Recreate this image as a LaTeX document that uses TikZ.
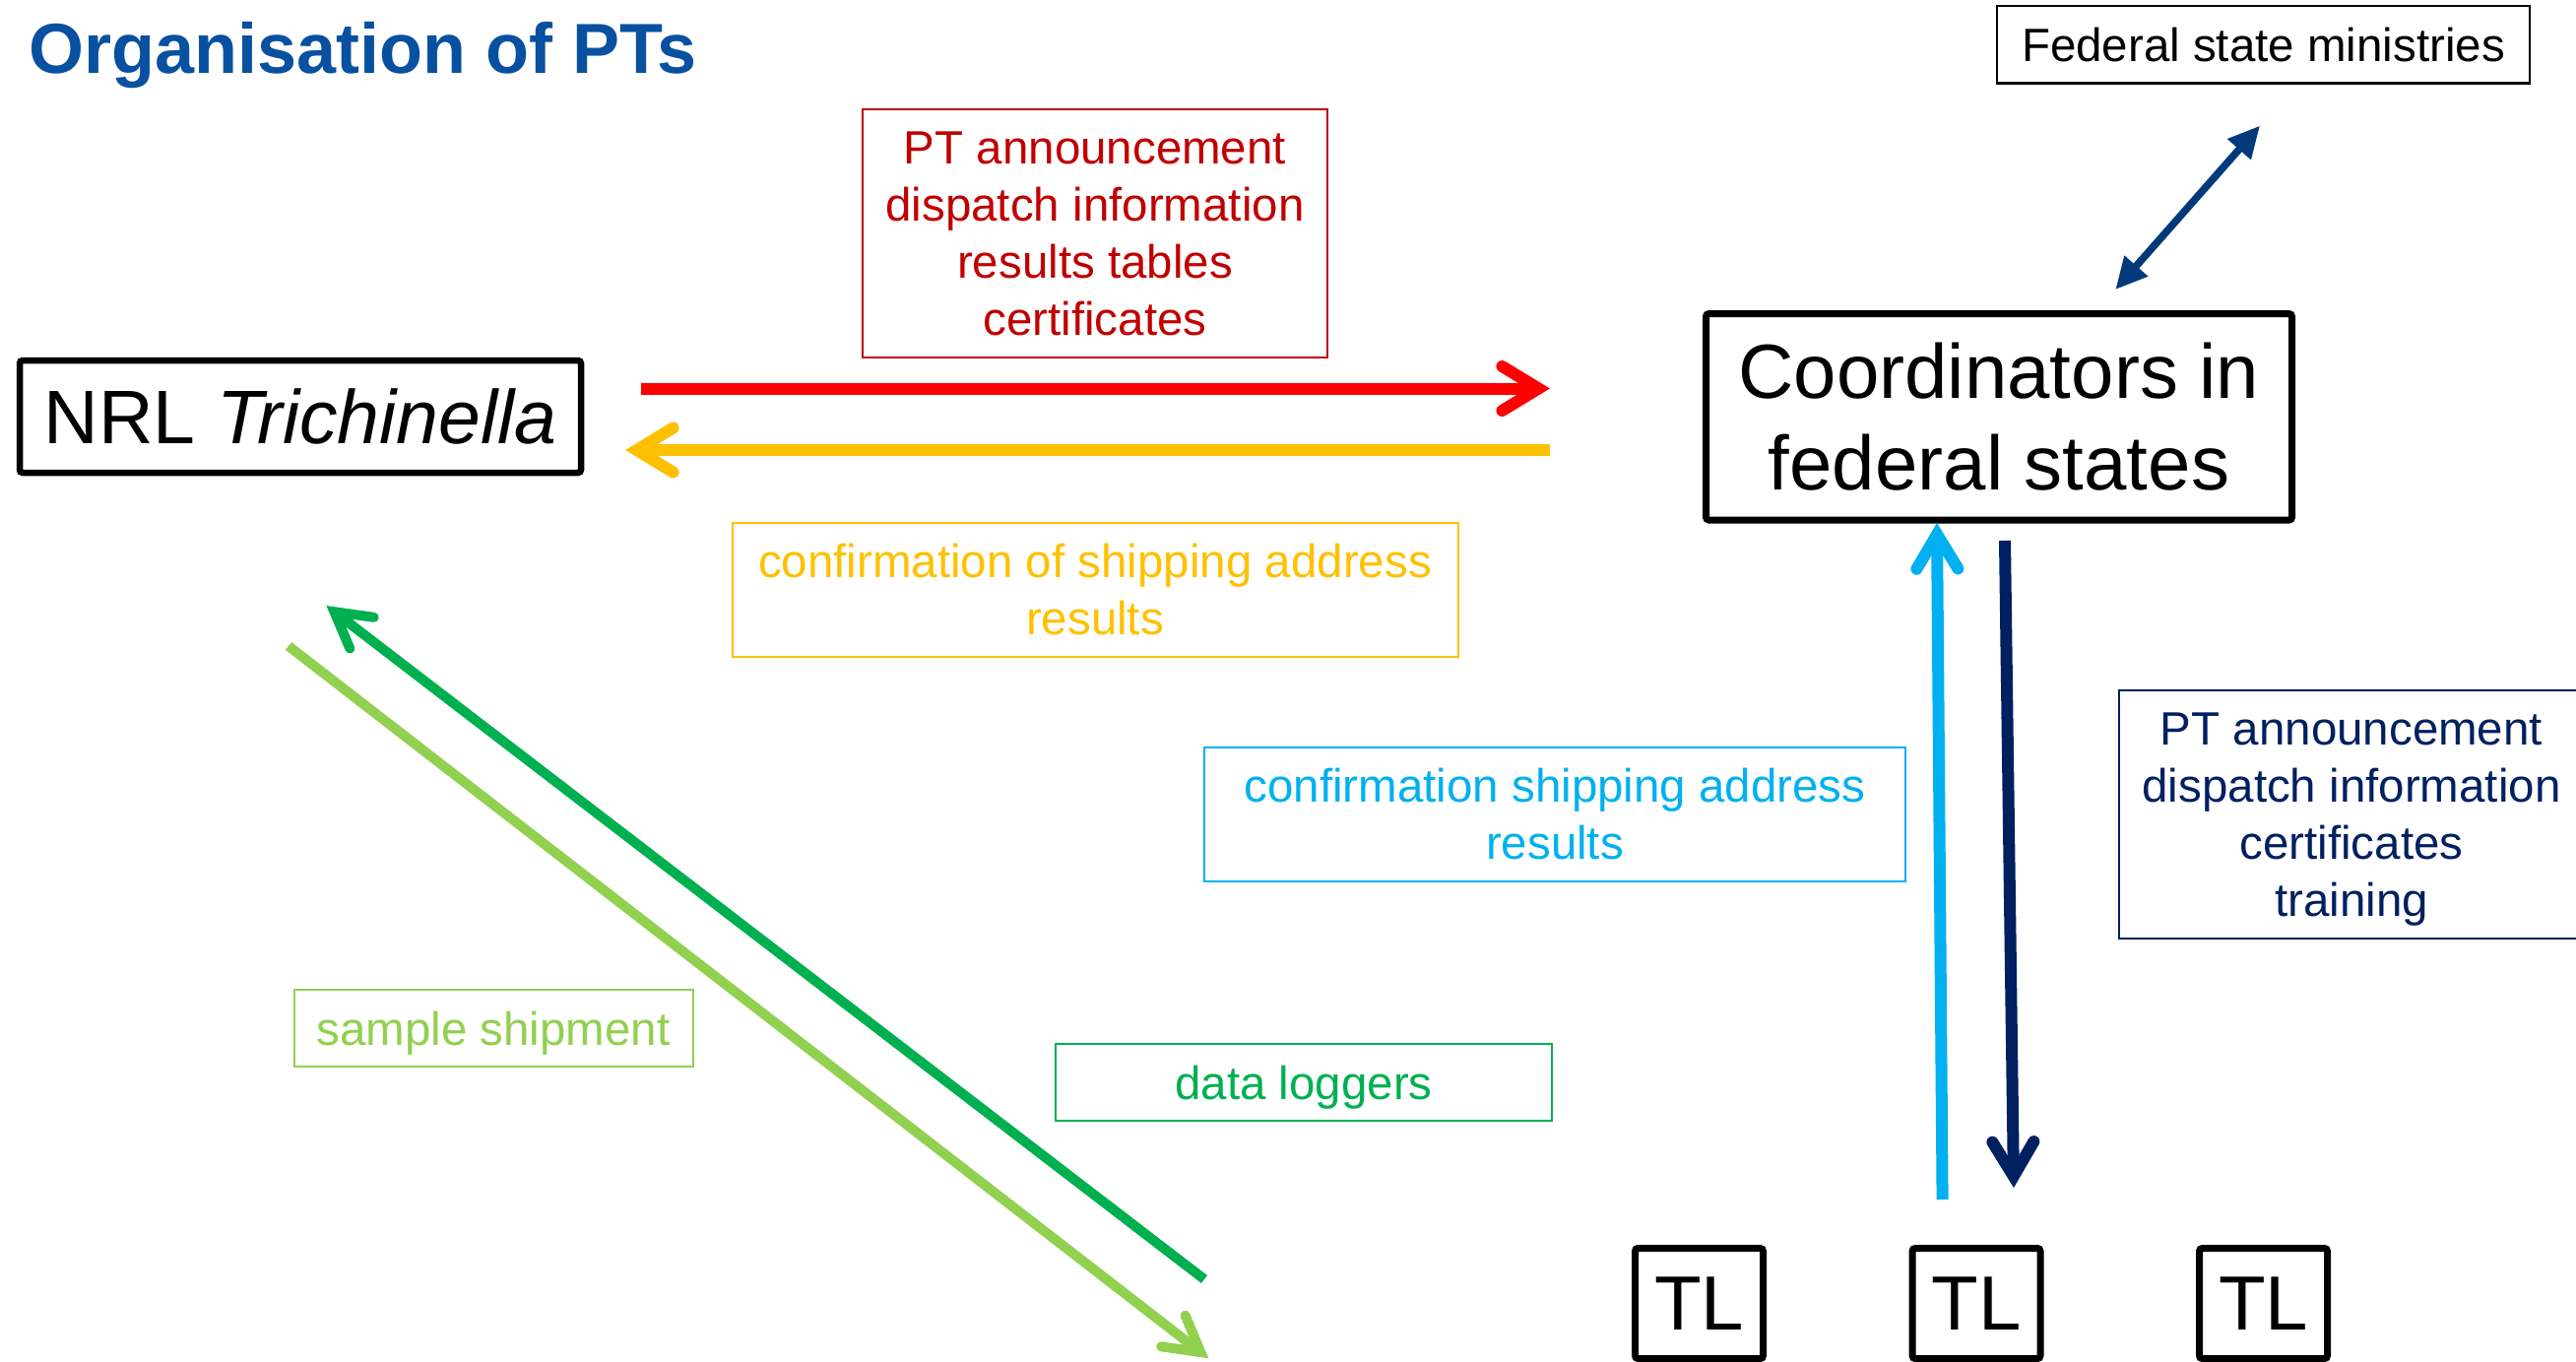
\documentclass[tikz,border=0pt]{standalone}
\usepackage{fontspec}
\setmainfont{Liberation Sans}
\usetikzlibrary{arrows.meta,calc}
\definecolor{titleblue}{RGB}{8,80,160}
\definecolor{pRed}{RGB}{255,0,0}
\definecolor{dRed}{RGB}{192,0,0}
\definecolor{pYel}{RGB}{255,192,0}
\definecolor{pCyan}{RGB}{0,176,240}
\definecolor{pNavy}{RGB}{0,32,96}
\definecolor{pDkGreen}{RGB}{0,176,80}
\definecolor{pLtGreen}{RGB}{146,208,80}
\definecolor{pMidBlue}{RGB}{0,58,122}
% #1 start, #2 tip, #3 style, #4 miter extension, #5 distance tip->arm ends, #6 half spread
\newcommand\flowarrow[6]{%
  \coordinate (fv) at ($(#2)!#4!(#1)$);
  \coordinate (fp) at ($(#2)!#5!(#1)$);
  \draw[#3] (#1) -- (fv);
  \draw[#3, line cap=round, line join=miter] ($(fp)!#6!90:(#2)$) -- (fv) -- ($(fp)!#6!-90:(#2)$);
}
\begin{document}
\begin{tikzpicture}[x=1pt,y=-1pt,
  bigbox/.style={draw=black, line width=7pt, rounded corners=3pt, inner sep=0pt, align=center},
  lblbox/.style={draw, line width=2pt, inner sep=0pt, align=center, font=\fontsize{47.5}{58}\selectfont},
  flow/.style={line width=12pt},
  dflow/.style={line width=10pt}
]
\useasboundingbox (0,0) rectangle (2616,1383);

% title
\node[anchor=base west, text=titleblue, font=\bfseries\fontsize{72}{86}\selectfont, inner sep=0pt] (title) at (29,74.6) {Organisation of PTs};

% main boxes
\node[bigbox, line width=6.5pt, minimum width=570pt, minimum height=114pt, font=\fontsize{77}{92}\selectfont] (nrl) at (305,423) {NRL \textit{Trichinella}};
\node[bigbox, minimum width=595pt, minimum height=209.5pt, font=\fontsize{78}{93}\selectfont] (coord) at (2030,423.3) {Coordinators in\\federal states};
\node[draw=black, line width=2.5pt, inner sep=0pt, minimum width=541pt, minimum height=78.6pt, font=\fontsize{47.5}{57}\selectfont] (fed) at (2298.5,45.3) {Federal state ministries};

\node[bigbox, minimum width=130pt, minimum height=112pt, font=\fontsize{78}{93}\selectfont] (tl1) at (1725.5,1323.5) {TL};
\node[bigbox, minimum width=130pt, minimum height=112pt, font=\fontsize{78}{93}\selectfont] (tl2) at (2007,1323.5) {TL};
\node[bigbox, minimum width=130pt, minimum height=112pt, font=\fontsize{78}{93}\selectfont] (tl3) at (2298.5,1323.5) {TL};

% label boxes
\node[lblbox, draw=dRed, text=dRed, minimum width=472pt, minimum height=252pt] (redlbl) at (1112,237) {PT announcement\\dispatch information\\results tables\\certificates};
\node[lblbox, draw=pYel, text=pYel, minimum width=737pt, minimum height=136pt] (yellbl) at (1112,599) {confirmation of shipping address\\results};
\node[lblbox, draw=pCyan, text=pCyan, minimum width=712pt, minimum height=136pt] (cylbl) at (1579,827) {confirmation shipping address\\results};
\node[lblbox, draw=pNavy, text=pNavy, minimum width=472pt, minimum height=252pt] (nvlbl) at (2388,827) {PT announcement\\dispatch information\\certificates\\\smash{training}};
\node[lblbox, draw=pLtGreen, text=pLtGreen, minimum width=405pt, minimum height=78pt, text depth=0pt] (smplbl) at (501,1044) {sample shipment};
\node[lblbox, draw=pDkGreen, text=pDkGreen, minimum width=504pt, minimum height=78pt, text depth=0pt] (dllbl) at (1324,1099) {data loggers};

% connector end points
\coordinate (redS) at (650.5,394.5);
\coordinate (redE) at (1574,394.5);
\coordinate (yelS) at (1574,457);
\coordinate (yelE) at (635,457);
\coordinate (cyS) at (1972.6,1218);
\coordinate (cyE) at (1967,531);
\coordinate (nvS) at (2036,549);
\coordinate (nvE) at (2045,1206);
\coordinate (dgS) at (1223,1299);
\coordinate (dgE) at (331.8,615.3);
\coordinate (lgS) at (293,656);
\coordinate (lgE) at (1227,1379);
\coordinate (dbA) at (2148.3,294);
\coordinate (dbB) at (2295,127.7);

% connectors
\flowarrow{redS}{redE}{flow, pRed}{11.6pt}{48.6pt}{22.5pt}
\flowarrow{yelS}{yelE}{flow, pYel}{11.6pt}{48.6pt}{22.5pt}
\flowarrow{cyS}{cyE}{flow, pCyan}{11.6pt}{46.6pt}{21pt}
\flowarrow{nvS}{nvE}{flow, pNavy}{11.6pt}{46.6pt}{21pt}
\flowarrow{dgS}{dgE}{dflow, pDkGreen}{9.7pt}{45pt}{20pt}
\flowarrow{lgS}{lgE}{dflow, pLtGreen}{9.7pt}{45pt}{20pt}
\draw[line width=7.5pt, pMidBlue, {Triangle[length=32pt,width=30pt]}-{Triangle[length=32pt,width=30pt]}] (dbA) -- (dbB);
\end{tikzpicture}
\end{document}
